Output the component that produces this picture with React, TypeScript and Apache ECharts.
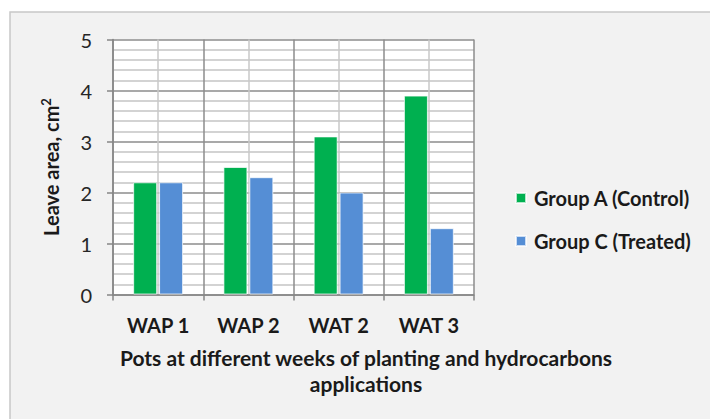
import React, { useEffect, useRef } from 'react';
import * as echarts from 'echarts';

const categories = ['WAP 1', 'WAP 2', 'WAT 2', 'WAT 3'];
const groupA = [2.2, 2.5, 3.1, 3.9];
const groupC = [2.2, 2.3, 2.0, 1.3];
const seriesNames = ['Group A (Control)', 'Group C (Treated)'];
const yMin = 0;
const yMax = 5;
const yInterval = 1;
const xTitleLines = ['Pots at different weeks of planting and hydrocarbons', 'applications'];

const FONT = 'Lato, "Open Sans", "Noto Sans", sans-serif';

export default function App() {
  const ref = useRef<HTMLDivElement>(null);
  useEffect(() => {
    document.body.style.margin = '0';
    const chart = echarts.init(ref.current!, null, { renderer: 'svg' });
    chart.setOption({
      animation: false,
      backgroundColor: '#ffffff',
      textStyle: { fontFamily: FONT },
      graphic: [
        {
          type: 'rect',
          z: -100,
          silent: true,
          shape: { x: 10, y: 12, width: 730, height: 430 },
          style: { fill: '#f2f2f2', stroke: '#c8c8c8', lineWidth: 1.5 },
        },
        {
          type: 'text',
          silent: true,
          x: 366,
          y: 370,
          style: {
            text: xTitleLines.join('\n'),
            fontFamily: FONT,
            fontSize: 21,
            fontWeight: 'bold',
            fill: '#1a1a1a',
            align: 'center',
            verticalAlign: 'middle',
            lineHeight: 26,
          },
        },
      ],
      legend: {
        orient: 'vertical',
        left: 515,
        top: 188,
        padding: 0,
        itemWidth: 10,
        itemHeight: 10,
        itemGap: 23,
        icon: 'rect',
        textStyle: {
          fontFamily: FONT,
          fontSize: 20,
          fontWeight: 'bold',
          color: '#1a1a1a',
          lineHeight: 20,
          padding: [0, 0, 0, 3],
        },
        data: seriesNames,
      },
      grid: {
        left: 113,
        right: 236,
        top: 39.5,
        bottom: 124.5,
        show: true,
        backgroundColor: '#ffffff',
        borderWidth: 0,
      },
      xAxis: [
        {
          type: 'category',
          data: categories,
          boundaryGap: true,
          axisLine: { lineStyle: { color: '#868686', width: 1.5 } },
          axisTick: { show: true, length: 6, lineStyle: { color: '#868686', width: 1.5 } },
          axisLabel: {
            margin: 20,
            fontFamily: FONT,
            fontSize: 20,
            fontWeight: 'bold',
            color: '#1a1a1a',
          },
          splitLine: { show: true, lineStyle: { color: '#8c8c8c', width: 1.5 } },
        },
        {
          type: 'value',
          min: 0,
          max: 4,
          interval: 1,
          position: 'bottom',
          show: true,
          axisLine: { show: false },
          axisTick: { show: false },
          axisLabel: { show: false },
          splitLine: { show: false },
          minorTick: { show: false, splitNumber: 2 },
          minorSplitLine: { show: true, lineStyle: { color: '#c8c8c8', width: 1.5 } },
        },
      ],
      yAxis: {
        type: 'value',
        min: yMin,
        max: yMax,
        interval: yInterval,
        name: 'Leave area, cm{sup|2}',
        nameLocation: 'middle',
        nameGap: 51,
        nameRotate: 90,
        nameTextStyle: {
          fontFamily: FONT,
          fontSize: 20,
          fontWeight: 'bold',
          color: '#1a1a1a',
          rich: {
            sup: {
              fontFamily: FONT,
              fontSize: 13,
              fontWeight: 'bold',
              color: '#1a1a1a',
              verticalAlign: 'top',
              padding: [0, 0, 10, 0],
            },
          },
        },
        axisLine: { show: true, lineStyle: { color: '#868686', width: 1.5 } },
        axisTick: { show: true, length: 6, lineStyle: { color: '#868686', width: 1.5 } },
        axisLabel: {
          margin: 21,
          fontFamily: FONT,
          fontSize: 20,
          color: '#262626',
        },
        splitLine: { show: true, lineStyle: { color: '#8c8c8c', width: 1.5 } },
        minorTick: { show: false, splitNumber: 5 },
        minorSplitLine: { show: true, lineStyle: { color: '#c4c4c4', width: 1.5 } },
      },
      series: [
        {
          name: seriesNames[0],
          type: 'bar',
          data: groupA,
          barWidth: 24,
          barGap: '8%',
          itemStyle: { color: '#00b050', borderColor: 'rgba(255,255,255,0.7)', borderWidth: 1 },
        },
        {
          name: seriesNames[1],
          type: 'bar',
          data: groupC,
          barWidth: 24,
          barGap: '8%',
          itemStyle: { color: '#558ed5', borderColor: 'rgba(255,255,255,0.7)', borderWidth: 1 },
        },
      ],
    });
    return () => chart.dispose();
  }, []);
  return <div ref={ref} style={{ width: 710, height: 419 }} />;
}
